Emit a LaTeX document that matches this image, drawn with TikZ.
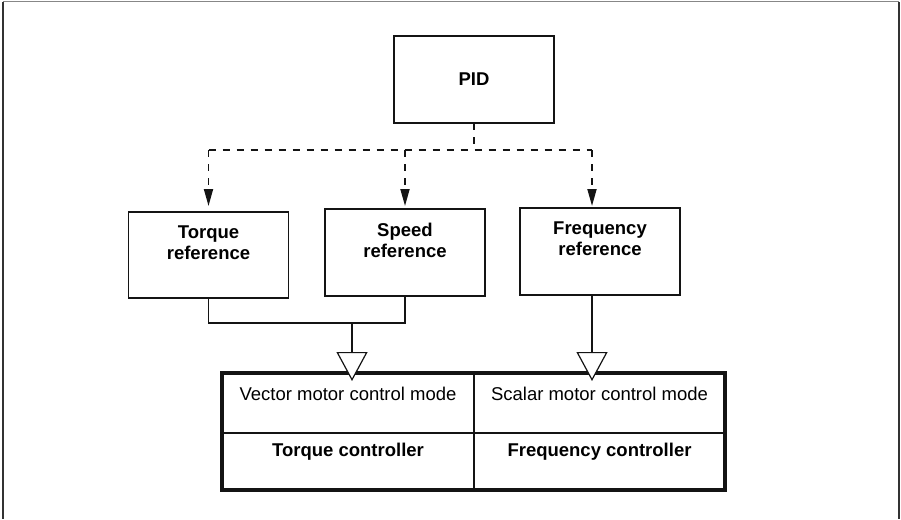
\documentclass[tikz,border=0pt]{standalone}
\usepackage{fontspec}
\setmainfont{Liberation Sans}
\usetikzlibrary{
  arrows.meta,
  positioning
}
\definecolor{inkblack}{RGB}{20,20,20}
\definecolor{framegray}{RGB}{135,135,135}
\definecolor{framedark}{RGB}{50,50,50}

\begin{document}
\begin{tikzpicture}[x=1pt, y=-1pt,
            refbox/.style={rectangle, draw=inkblack, line width=1.8pt, minimum width=160pt, minimum height=87pt, inner sep=0pt, outer sep=0pt},
            reftext/.style={font=\fontsize{18.5}{21}\selectfont\bfseries, align=center, inner sep=0pt, anchor=north},
            cell/.style={rectangle, draw=inkblack, line width=1.2pt, minimum width=252pt, inner sep=0pt, outer sep=0pt},
            modetext/.style={font=\fontsize{18.5}{19}\selectfont, inner sep=0pt, anchor=north},
            ctrltext/.style={modetext, font=\fontsize{18.5}{19}\selectfont\bfseries},
            pidlink/.style={draw=inkblack, line width=1.8pt, dash pattern=on 7pt off 7pt},
            pidarrow/.style={pidlink, -{Triangle[length=17pt, width=9pt]}},
            feed/.style={draw=inkblack, line width=1.8pt},
            feedarrow/.style={feed, -{Triangle[length=29pt, width=31pt, fill=white, line width=1.2pt]}, shorten >=-8pt}]
            \useasboundingbox (0,0) rectangle (901,519);
            % page frame
            \draw[framegray, line width=1pt] (3,2) -- (899,2);
            \draw[framedark, line width=1.2pt] (3,2) -- (3,519) (899,2) -- (899,519);
            % sources
            \node [refbox, font=\fontsize{18.5}{19}\selectfont\bfseries] (pid) at (474,79.5) {PID};
            \node [refbox, minimum height=86pt] (tref) at (208.5,255) {};
            \node [refbox] (sref) at (405,252.5) {};
            \node [refbox] (fref) at (600,251.5) {};
            \node [reftext] (treftxt) at ([yshift=-14pt]tref.north) {Torque\\reference};
            \node [reftext] (sreftxt) at ([yshift=-14pt]sref.north) {Speed\\reference};
            \node [reftext] (freftxt) at ([yshift=-14pt]fref.north) {Frequency\\reference};
            % control modes
            \node [cell, minimum height=60pt] (vmode) at (348,403) {};
            \node [cell, minimum width=251pt, minimum height=60pt, right=0pt of vmode] (smode) {};
            \node [cell, minimum height=57pt, below=0pt of vmode] (tctrl) {};
            \node [cell, minimum width=251pt, minimum height=57pt, right=0pt of tctrl] (fctrl) {};
            \draw[inkblack, line width=3.8pt] (vmode.north west) rectangle (fctrl.south east);
            \node [modetext] (vtxt) at ([yshift=-14pt]vmode.north) {Vector motor control mode};
            \node [modetext] (stxt) at ([yshift=-14pt]smode.north) {Scalar motor control mode};
            \node [ctrltext] (ttxt) at ([yshift=-10pt]tctrl.north) {Torque controller};
            \node [ctrltext] (ftxt) at ([yshift=-10pt]fctrl.north) {Frequency controller};
            % connectors
            \coordinate (split) at ([yshift=-27pt]pid.south);
            \coordinate (fdrop) at ([xshift=-8pt]fref.north);
            \coordinate (vjoin) at (352,323);
            \path[pidlink] (pid.south) -- (split);
            \path[pidlink] (tref.north |- split) -- (fdrop |- split);
            \path[pidarrow, shorten >=6pt] (tref.north |- split) -- (tref.north);
            \path[pidarrow, shorten >=3pt] (sref.north |- split) -- (sref.north);
            \path[pidarrow, shorten >=2pt] (fdrop |- split) -- (fdrop);
            \draw[feed] (tref.south) -- (tref.south |- vjoin) -- (sref.south |- vjoin) -- (sref.south);
            \draw[feedarrow] (vjoin) -- (vjoin |- vmode.north);
            \draw[feedarrow] (fdrop |- fref.south) -- (fdrop |- smode.north);
        \end{tikzpicture}
\end{document}
